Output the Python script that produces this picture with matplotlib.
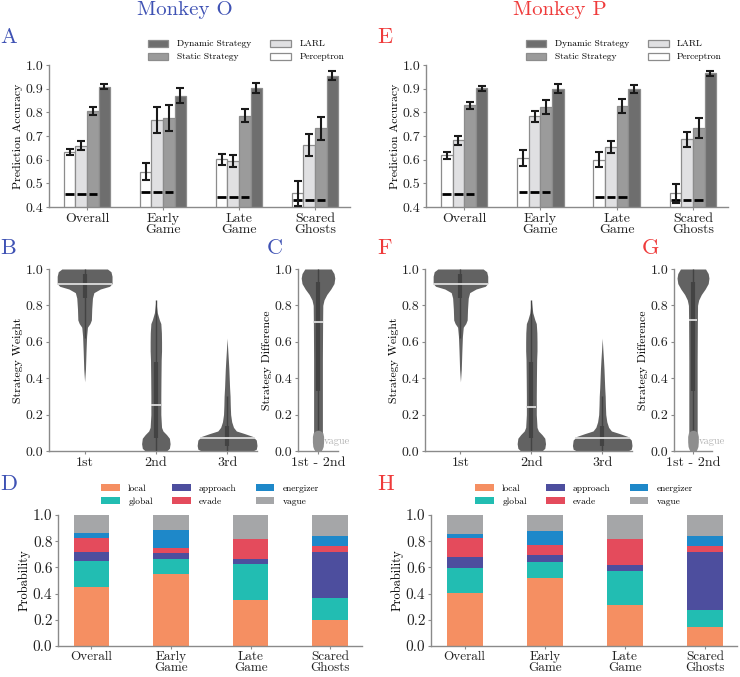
import numpy as np
import matplotlib
matplotlib.use('Agg')
import matplotlib.pyplot as plt

plt.rcParams['font.family'] = 'serif'
plt.rcParams['font.serif'] = ['cmr10']
plt.rcParams['mathtext.fontset'] = 'cm'
plt.rcParams['axes.unicode_minus'] = False

# ---- data ----
groups = ['Overall', 'Early\nGame', 'Late\nGame', 'Scared\nGhosts']
models = ['Perceptron', 'LARL', 'Static Strategy', 'Dynamic Strategy']

# rows: Perceptron, LARL, Static, Dynamic
o_acc = [[0.633, 0.549, 0.601, 0.458],
         [0.659, 0.768, 0.595, 0.662],
         [0.806, 0.775, 0.786, 0.732],
         [0.909, 0.871, 0.902, 0.955]]
o_err = [[0.013, 0.037, 0.023, 0.052],
         [0.018, 0.055, 0.026, 0.048],
         [0.018, 0.054, 0.028, 0.047],
         [0.010, 0.032, 0.020, 0.018]]
o_chance = [0.455, 0.462, 0.442, 0.431]

p_acc = [[0.618, 0.607, 0.600, 0.458],
         [0.682, 0.784, 0.654, 0.686],
         [0.829, 0.824, 0.827, 0.732],
         [0.902, 0.899, 0.897, 0.965]]
p_err = [[0.014, 0.035, 0.031, 0.041],
         [0.018, 0.023, 0.026, 0.032],
         [0.014, 0.030, 0.028, 0.042],
         [0.010, 0.019, 0.017, 0.011]]
p_chance = [0.455, 0.462, 0.442, 0.431]

strategies = ['local', 'global', 'approach', 'evade', 'energizer', 'vague']
# rows: strategy, columns: Overall, Early, Late, Scared
o_prob = [[0.452, 0.553, 0.352, 0.201],
          [0.196, 0.108, 0.271, 0.163],
          [0.068, 0.048, 0.040, 0.357],
          [0.106, 0.037, 0.157, 0.040],
          [0.040, 0.141, 0.000, 0.076],
          [0.138, 0.113, 0.180, 0.163]]
p_prob = [[0.405, 0.520, 0.314, 0.148],
          [0.190, 0.121, 0.261, 0.123],
          [0.086, 0.055, 0.041, 0.445],
          [0.141, 0.078, 0.198, 0.050],
          [0.035, 0.105, 0.002, 0.071],
          [0.143, 0.121, 0.184, 0.163]]

# violin outlines (strategy weight, half width)
v1_y = [0.38, 0.45, 0.55, 0.63, 0.68, 0.70, 0.72, 0.78, 0.84, 0.87, 0.89, 0.905, 0.92, 0.96, 0.985, 1.0]
v1_w = [0.0, 0.012, 0.02, 0.028, 0.04, 0.075, 0.095, 0.1, 0.11, 0.13, 0.22, 0.35, 0.385, 0.385, 0.37, 0.32]
v2_y = [0.0, 0.015, 0.04, 0.07, 0.09, 0.11, 0.13, 0.2, 0.3, 0.4, 0.5, 0.55, 0.6, 0.65, 0.7, 0.72, 0.76, 0.8, 0.83]
v2_w = [0.15, 0.19, 0.2, 0.19, 0.15, 0.1, 0.08, 0.07, 0.07, 0.072, 0.075, 0.08, 0.08, 0.078, 0.07, 0.05, 0.02, 0.008, 0.0]
v3_y = [0.0, 0.01, 0.03, 0.06, 0.08, 0.095, 0.11, 0.13, 0.16, 0.2, 0.25, 0.3, 0.35, 0.4, 0.45, 0.5, 0.55, 0.62]
v3_w = [0.36, 0.41, 0.42, 0.41, 0.36, 0.25, 0.13, 0.09, 0.065, 0.05, 0.045, 0.042, 0.035, 0.03, 0.025, 0.018, 0.01, 0.0]
# inner box: q1, q3, whisker low, whisker high, median
o_weight_box = [[0.84, 0.97, 0.62, 1.0, 0.92],
                [0.07, 0.49, 0.0, 0.83, 0.255],
                [0.03, 0.14, 0.0, 0.30, 0.07]]
p_weight_box = [[0.84, 0.97, 0.62, 1.0, 0.92],
                [0.07, 0.49, 0.0, 0.83, 0.24],
                [0.03, 0.14, 0.0, 0.30, 0.07]]
diff_y = [0.0, 0.1, 0.3, 0.5, 0.7, 0.8, 0.83, 0.86, 0.89, 0.92, 0.95, 0.975, 1.0]
diff_w = [0.08, 0.11, 0.11, 0.11, 0.115, 0.12, 0.15, 0.22, 0.32, 0.4, 0.42, 0.4, 0.33]
vague_y = [0.0, 0.008, 0.025, 0.05, 0.08, 0.1, 0.11, 0.115]
vague_w = [0.05, 0.1, 0.13, 0.14, 0.14, 0.12, 0.07, 0.0]
o_diff_box = [0.33, 0.93, 0.0, 1.0, 0.71]
p_diff_box = [0.33, 0.93, 0.0, 1.0, 0.72]

# ---- style ----
bar_colors = ['#ffffff', '#e0e0e2', '#9b9b9b', '#6e6e6e']
strat_colors = ['#f58f62', '#22bdb2', '#4d4e9e', '#e44b5c', '#1e88c9', '#a5a6a8']
blue = '#3f52b4'
red = '#ef3b3b'
spine_c = '#8a8a8a'
violin_c = '#626262'
inner_c = '#434343'

W, H = 740, 677
fig = plt.figure(figsize=(7.4, 6.77), dpi=100)


def rect(l, t, r, b):
    return [l / W, 1 - b / H, (r - l) / W, (b - t) / H]


def style(ax, fs=10):
    for s in ['top', 'right']:
        ax.spines[s].set_visible(False)
    for s in ['left', 'bottom']:
        ax.spines[s].set_color(spine_c)
        ax.spines[s].set_linewidth(1)
    ax.tick_params(colors=spine_c, length=2.5, width=0.8, pad=1.5, labelsize=fs, labelcolor='#222222')


def accuracy_panel(ax, acc, err, chance):
    x = np.arange(len(groups))
    w = 0.152
    handles = []
    for i in range(4):
        xi = x + (i - 1.5) * w
        b = ax.bar(xi, acc[i], w, color=bar_colors[i], edgecolor='#8c8c8c', lw=0.9, zorder=2)
        ax.errorbar(xi, acc[i], yerr=err[i], fmt='none', ecolor='#1a1a1a', elinewidth=1.5,
                    capsize=3, capthick=1.5, zorder=4)
        if i < 3:
            ax.hlines(chance, xi - 0.37 * w, xi + 0.37 * w, color='black', lw=2.0, zorder=3)
        handles.append(b)
    ax.set_ylim(0.4, 1.0)
    ax.set_xlim(-0.5, 3.46)
    ax.set_yticks(np.arange(0.4, 1.01, 0.1))
    ax.set_yticklabels(['%.1f' % v for v in np.arange(0.4, 1.01, 0.1)])
    ax.set_xticks(x)
    ax.set_xticklabels(groups, linespacing=0.95)
    ax.set_ylabel('Prediction Accuracy', fontsize=8.5, labelpad=2)
    style(ax)
    ax.legend([handles[3], handles[2], handles[1], handles[0]],
              [models[3], models[2], models[1], models[0]],
              ncol=2, frameon=False, fontsize=6.8, loc='lower right',
              bbox_to_anchor=(0.98, 1.025), borderaxespad=0, borderpad=0,
              handlelength=2.2, handleheight=0.75, handletextpad=0.9,
              columnspacing=2.0, labelspacing=0.45)


def violin(ax, x, ys, ws, box):
    ys = np.asarray(ys)
    ws = np.asarray(ws)
    ax.fill_betweenx(ys, x - ws, x + ws, color=violin_c, lw=0, zorder=2)
    q1, q3, lo, hi, med = box
    ax.vlines(x, lo, hi, color=inner_c, lw=1.0, zorder=3)
    ax.vlines(x, q1, q3, color=inner_c, lw=3.0, zorder=3)
    mw = np.interp(med, ys, ws)
    ax.hlines(med, x - mw, x + mw, color='#dedede', lw=1.3, zorder=4)


def weight_panel(ax, boxes):
    for i, (ys, ws) in enumerate([(v1_y, v1_w), (v2_y, v2_w), (v3_y, v3_w)]):
        violin(ax, i, ys, ws, boxes[i])
    ax.set_xlim(-0.5, 2.42)
    ax.set_ylim(0, 1.0)
    ax.set_xticks([0, 1, 2])
    ax.set_xticklabels(['1st', '2nd', '3rd'])
    ax.set_yticks(np.arange(0, 1.01, 0.2))
    ax.set_yticklabels(['%.1f' % v for v in np.arange(0, 1.01, 0.2)])
    ax.set_ylabel('Strategy Weight', fontsize=8.5, labelpad=2)
    style(ax)


def diff_panel(ax, box):
    violin(ax, 0, diff_y, diff_w, box)
    vy = np.asarray(vague_y)
    vw = np.asarray(vague_w)
    ax.fill_betweenx(vy, -vw, vw, color='#8e8e8e', lw=0, zorder=5)
    ax.text(0.15, 0.055, 'vague', color='#b4b4b4', fontsize=7.5, va='center', ha='left',
            clip_on=False, zorder=6)
    ax.set_xlim(-0.5, 0.5)
    ax.set_ylim(0, 1.0)
    ax.set_xticks([0])
    ax.set_xticklabels(['1st - 2nd'])
    ax.set_yticks(np.arange(0, 1.01, 0.2))
    ax.set_yticklabels(['%.1f' % v for v in np.arange(0, 1.01, 0.2)])
    ax.set_ylabel('Strategy Difference', fontsize=8.5, labelpad=2)
    style(ax)


def prob_panel(ax, prob):
    x = np.arange(len(groups))
    bottom = np.zeros(len(groups))
    handles = []
    for i, s in enumerate(strategies):
        b = ax.bar(x, prob[i], 0.45, bottom=bottom, color=strat_colors[i], lw=0, zorder=2)
        bottom += np.asarray(prob[i])
        handles.append(b)
    ax.set_xlim(-0.42, 3.4)
    ax.set_ylim(0, 1.0)
    ax.set_xticks(x)
    ax.set_xticklabels(groups, linespacing=0.85)
    ax.set_yticks(np.arange(0, 1.01, 0.2))
    ax.set_yticklabels(['%.1f' % v for v in np.arange(0, 1.01, 0.2)])
    ax.set_ylabel('Probability', fontsize=9, labelpad=2)
    style(ax)
    ax.tick_params(axis='y', labelsize=11)
    ax.tick_params(axis='x', labelsize=9.5, pad=1)
    ax.legend(handles, strategies, ncol=3, frameon=False, fontsize=6.8, loc='lower center',
              bbox_to_anchor=(0.5, 1.07), borderaxespad=0, borderpad=0,
              handlelength=2.0, handleheight=0.75, handletextpad=0.9,
              columnspacing=2.0, labelspacing=0.45)


axA = fig.add_axes(rect(49, 65, 350, 207))
axE = fig.add_axes(rect(426, 65, 728, 207))
axB = fig.add_axes(rect(49, 269, 257, 451))
axC = fig.add_axes(rect(298, 269, 338, 451))
axF = fig.add_axes(rect(425, 269, 632, 451))
axG = fig.add_axes(rect(674, 269, 712, 451))
axD = fig.add_axes(rect(58, 515, 362, 646))
axH = fig.add_axes(rect(431, 515, 737, 646))

accuracy_panel(axA, o_acc, o_err, o_chance)
accuracy_panel(axE, p_acc, p_err, p_chance)
weight_panel(axB, o_weight_box)
weight_panel(axF, p_weight_box)
diff_panel(axC, o_diff_box)
diff_panel(axG, p_diff_box)
prob_panel(axD, o_prob)
prob_panel(axH, p_prob)

# titles and panel letters
fig.text(185 / W, 1 - 15 / H, 'Monkey O', color=blue, fontsize=15, ha='center', va='baseline')
fig.text(560 / W, 1 - 15 / H, 'Monkey P', color=red, fontsize=15, ha='center', va='baseline')
letters = [('A', 0, 43, blue), ('B', 0, 254, blue), ('C', 267, 254, blue), ('D', 0, 490, blue),
           ('E', 377, 43, red), ('F', 377, 254, red), ('G', 642, 254, red), ('H', 377, 490, red)]
for t, lx, ly, c in letters:
    fig.text(lx / W, 1 - ly / H, t, color=c, fontsize=16, ha='left', va='baseline')

fig.savefig('out.png', dpi=100)
